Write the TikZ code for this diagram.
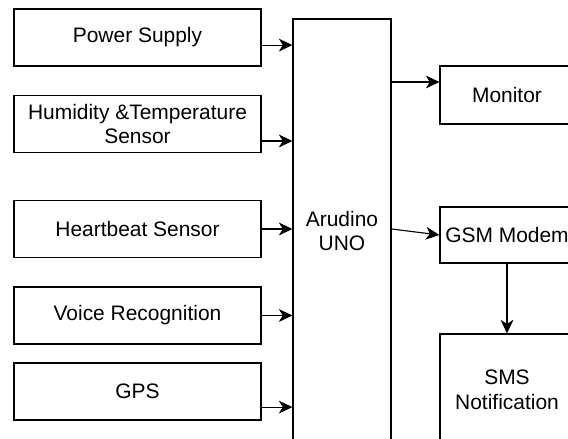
\documentclass[tikz,border=0pt]{standalone}
\usepackage{fontspec}
\setmainfont{Liberation Sans}
\usetikzlibrary{arrows.meta}

\begin{document}
\begin{tikzpicture}[line width=0.8pt,
		block/.style={draw, align=center, inner sep=0pt, font=\fontsize{14.9}{17.5}\selectfont},
		inbox/.style={block, minimum width=6.175cm, minimum height=1.425cm},
		outbox/.style={block, minimum width=3.35cm},
		arr/.style={-{Stealth[length=0.34cm, width=0.32cm, inset=0.1cm]}}]
		\useasboundingbox (0,0) rectangle (14.2,10.975);
		\clip (0,0) rectangle (14.2,10.975);

		% inputs
		\node[inbox] (power) at (3.4375, 10.0375) {Power Supply};
		\node[inbox] (humid) at (3.4375, 7.875) {Humidity \&Temperature\\Sensor};
		\node[inbox] (heart) at (3.4375, 5.25) {Heartbeat Sensor};
		\node[inbox] (voice) at (3.4375, 3.0875) {Voice Recognition};
		\node[inbox] (gps) at (3.4375, 1.1875) {GPS};

		% controller
		\node[block, minimum width=2.45cm, minimum height=10.6cm] (uno) at (8.55, 5.2) {Arudino\\UNO};

		% outputs
		\node[outbox, minimum height=1.45cm] (monitor) at (12.675, 8.6) {Monitor};
		\node[outbox, minimum height=1.4cm] (gsm) at (12.675, 5.1) {GSM Modem};
		\node[outbox, minimum height=2.8cm] (sms) at (12.675, 1.225) {SMS\\Notification};

		\draw[arr] ([yshift=-0.19cm]power.east) -- ([yshift=-0.19cm]power.east -| uno.west);
		\draw[arr] ([yshift=-0.425cm]humid.east) -- ([yshift=-0.425cm]humid.east -| uno.west);
		\draw[arr] (heart.east) -- (heart.east -| uno.west);
		\draw[arr] (voice.east) -- (voice.east -| uno.west);
		\draw[arr] ([yshift=-0.39cm]gps.east) -- ([yshift=-0.39cm]gps.east -| uno.west);

		\draw[arr] ([yshift=0.325cm]monitor.west -| uno.east) -- ([yshift=0.325cm]monitor.west);
		\draw[arr] (heart.east -| uno.east) -- (gsm.west);
		\draw[arr] (gsm.south) -- (sms.north);
	\end{tikzpicture}
\end{document}
